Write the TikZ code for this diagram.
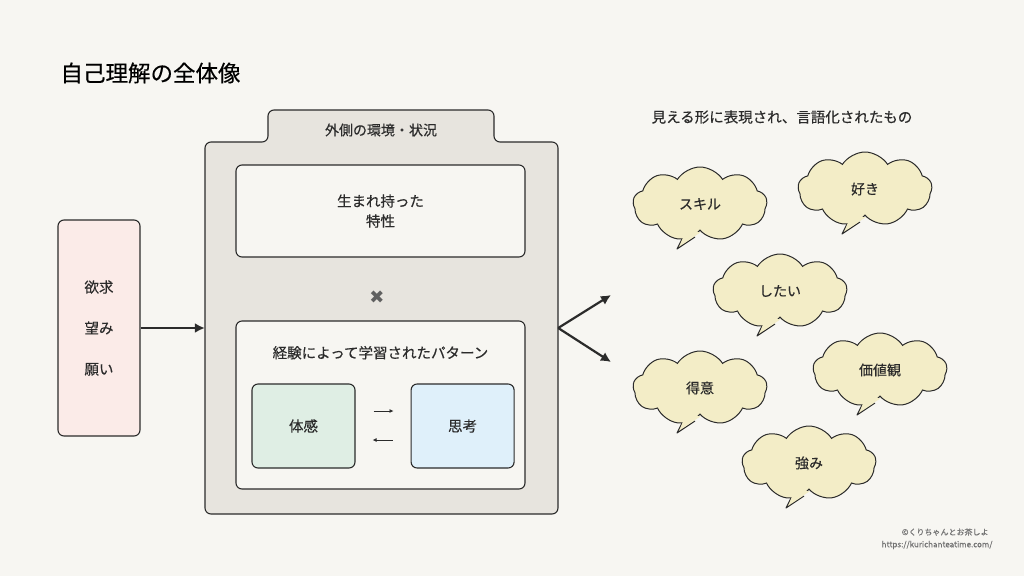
\documentclass[tikz,border=0pt]{standalone}
\usepackage{fontspec}
\setmainfont{Noto Sans CJK JP}[FakeBold=0.35]
\newfontfamily\symfont{DejaVu Sans}
\usetikzlibrary{arrows.meta,positioning,shapes.symbols}
\definecolor{PageBg}{HTML}{F7F6F2}
\definecolor{EnvGray}{HTML}{E7E4DE}
\definecolor{WishPink}{HTML}{FBEBE8}
\definecolor{BodyGreen}{HTML}{DFEEE4}
\definecolor{MindBlue}{HTML}{DFF0FA}
\definecolor{CloudYellow}{HTML}{F3EDC7}
\definecolor{InkDark}{HTML}{2B2B2B}

\begin{document}
\begin{tikzpicture}[
  x=1pt, y=-1pt,
  >=Latex,
  box/.style={draw=InkDark, line width=1.1pt, rounded corners=6pt, fill=PageBg, align=center, font=\fontsize{14.5}{20}\selectfont, text=InkDark},
  small/.style={box, minimum width=103pt, minimum height=84pt},
  arrow/.style={-{Latex[length=10pt,width=10pt]}, line width=2.2pt, InkDark},
  thinarrow/.style={-{Latex[length=4pt,width=4pt]}, line width=0.9pt, InkDark},
  bubble/.style={cloud, cloud puffs=9, cloud puff arc=115, aspect=1.8, draw=InkDark, line width=1pt, fill=CloudYellow, minimum width=134pt, minimum height=74pt, font=\fontsize{14}{16}\selectfont, text=InkDark},
  tail/.pic={\filldraw[draw=InkDark, line width=1pt, fill=CloudYellow, line join=round] (-17,33) -- (-23,45) -- (-5,33);},
  tailpatch/.pic={\fill[CloudYellow] (-15,28) -- (-19.3,39.5) -- (-16.3,39.5) -- (1,28) -- cycle;}
]
\fill[PageBg] (0,0) rectangle (1024,576);
\useasboundingbox (0,0) rectangle (1024,576);

\node[anchor=west, font=\fontsize{22.5}{26}\selectfont, text=black] (title) at (57,73) {自己理解の全体像};

% left side
\node[box, fill=WishPink, minimum width=82pt, minimum height=216pt, font=\fontsize{14.5}{41}\selectfont] (wish) at (99,328) {欲求\\望み\\願い};

% environment frame with tab
\filldraw[draw=InkDark, line width=1.1pt, fill=EnvGray, rounded corners=6pt]
  (205,514) -- (205,142) -- (268,142) -- (268,110) -- (494,110) -- (494,142) -- (558,142) -- (558,514) -- cycle;
\node[font=\fontsize{14}{16}\selectfont, text=InkDark] (envlabel) at (381,130) {外側の環境・状況};
\node[minimum width=353pt, minimum height=372pt, inner sep=0pt] (env) at (381.5,328) {};

\node[box, minimum width=289pt, minimum height=92pt] (nature) at (380.5,211) {生まれ持った\\特性};
\node[font=\symfont\fontsize{18}{18}\selectfont, text=gray!75!black] (times) at (377,297) {✖};
\node[box, minimum width=289pt, minimum height=168pt] (pattern) at (380.5,405) {};
\node[font=\fontsize{14.5}{16}\selectfont, text=InkDark, below=22pt of pattern.north] (patternlabel) {経験によって学習されたパターン};
\node[small, fill=BodyGreen] (body) at (303.5,426) {体感};
\node[small, fill=MindBlue, right=55pt of body] (mind) {思考};
\draw[thinarrow, shorten <=18pt, shorten >=17pt] ([yshift=15pt]body.east) -- ([yshift=15pt]mind.west);
\draw[thinarrow, shorten <=18pt, shorten >=17pt] ([yshift=-14pt]mind.west) -- ([yshift=-14pt]body.east);

\draw[arrow] (wish) -- (env);
\coordinate (up) at (611,295);
\coordinate (down) at (611,362);
\draw[arrow] (env.east) -- (up);
\draw[arrow] (env.east) -- (down);

% right side
\node[font=\fontsize{14.5}{16}\selectfont, text=InkDark] (shown) at (782,117) {見える形に表現され、言語化されたもの};

\coordinate (c1) at (700,204);
\coordinate (c2) at (865,189);
\coordinate (c3) at (780,291);
\coordinate (c4) at (700,388);
\coordinate (c5) at (880,370);
\coordinate (c6) at (809,463);
\pic at (c1) {tail}; \node[bubble] (skill) at (c1) {スキル}; \pic at (c1) {tailpatch};
\pic at (c2) {tail}; \node[bubble] (like) at (c2) {好き}; \pic at (c2) {tailpatch};
\pic at (c3) {tail}; \node[bubble] (want) at (c3) {したい}; \pic at (c3) {tailpatch};
\pic at (c4) {tail}; \node[bubble] (good) at (c4) {得意}; \pic at (c4) {tailpatch};
\pic at (c5) {tail}; \node[bubble] (values) at (c5) {価値観}; \pic at (c5) {tailpatch};
\pic at (c6) {tail}; \node[bubble] (strength) at (c6) {強み}; \pic at (c6) {tailpatch};

\node[anchor=east, font=\fontsize{8}{10}\selectfont, text=gray!90!black] (credit) at (992,532) {©くりちゃんとお茶しよ};
\node[anchor=east, font=\fontsize{8}{10}\selectfont, text=gray!90!black] (url) at (996,545) {https://kurichanteatime.com/};
\end{tikzpicture}
\end{document}
